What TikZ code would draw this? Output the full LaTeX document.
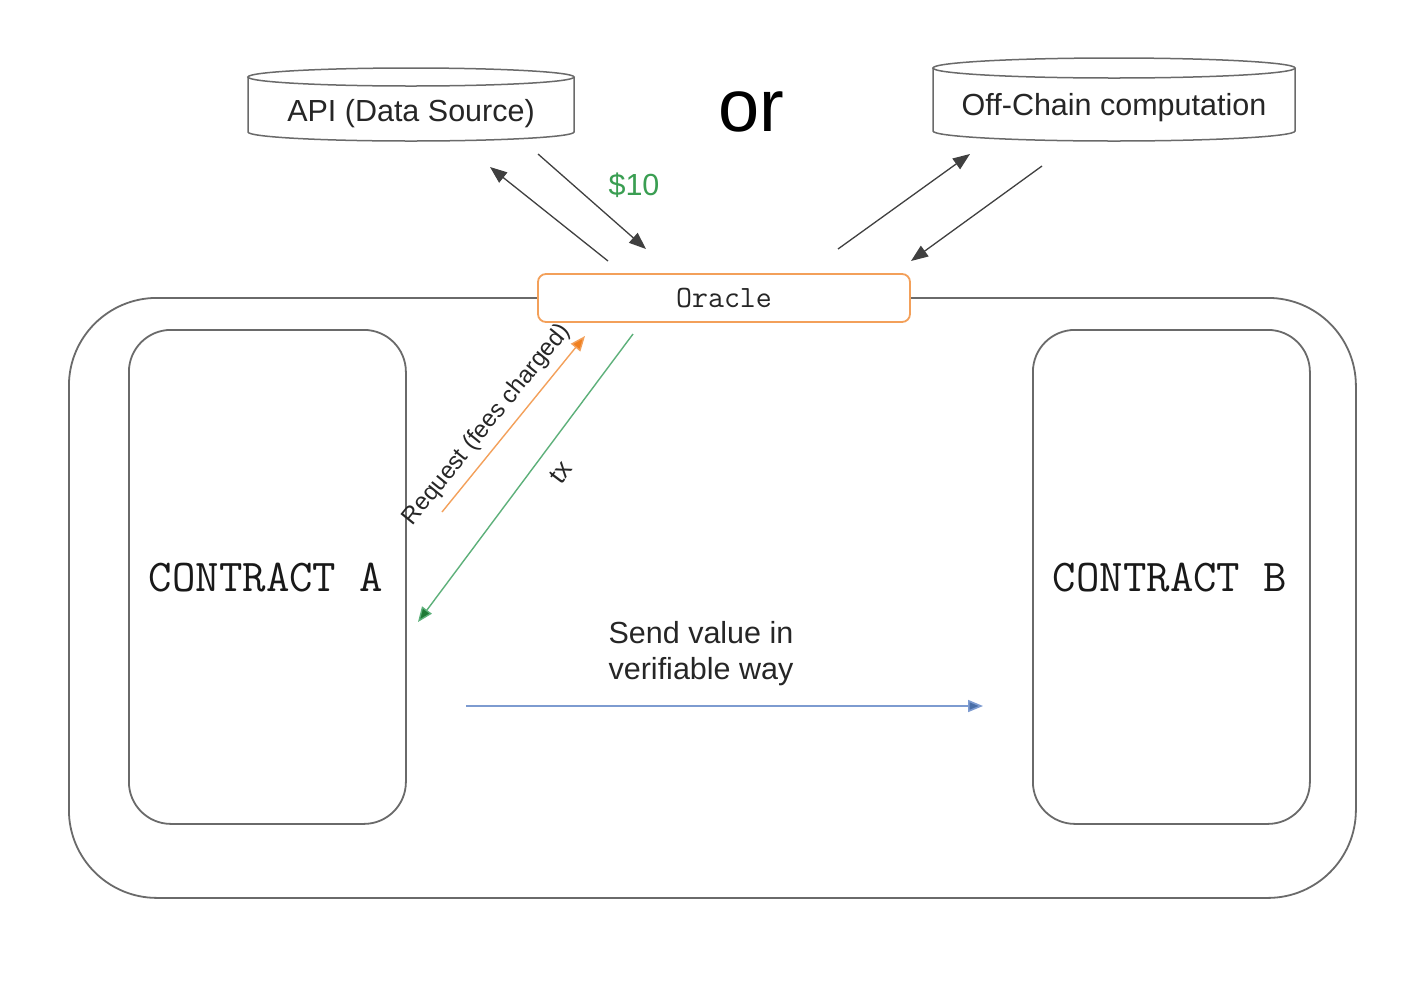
\documentclass[tikz,border=0pt]{standalone}
\usepackage{fontspec}
\setmainfont{Liberation Sans}
\usetikzlibrary{arrows.meta}
\definecolor{lgray}{HTML}{6A6A6A}
\definecolor{orng}{HTML}{F3A05A}
\definecolor{orngtip}{HTML}{F07F1E}
\definecolor{grn}{HTML}{5DB07A}
\definecolor{grntip}{HTML}{1E7A35}
\definecolor{grntxt}{HTML}{3A9E52}
\definecolor{blu}{HTML}{7D9BD0}
\definecolor{blutip}{HTML}{4A6FA8}
\tikzset{
  boxline/.style={draw=lgray, line width=1.8pt},
  blkarrow/.style={draw=black!75, line width=1.3pt, -{Triangle[length=17pt,width=13pt]}},
  sanslbl/.style={font=\fontsize{30.5}{36}\selectfont, text=black!85, inner sep=0pt},
  ttlbl/.style={font=\ttfamily\fontsize{45.5}{50}\selectfont, text=black!90, inner sep=0pt}
}
\begin{document}
\begin{tikzpicture}[x=1pt,y=-1pt]
\useasboundingbox (0,0) rectangle (1424,1005);
\fill[white] (0,0) rectangle (1424,1005);

% outer rounded rectangle
\node[boxline, rounded corners=88pt, minimum width=1287pt, minimum height=600pt, anchor=north west] (outer) at (68,297) {};
% contracts
\node[boxline, rounded corners=42pt, minimum width=277pt, minimum height=494pt, anchor=north west] (ca) at (128,329) {};
\node[boxline, rounded corners=42pt, minimum width=277pt, minimum height=494pt, anchor=north west] (cb) at (1032,329) {};
\node[ttlbl] (catext) at (266,578) {CONTRACT A};
\node[ttlbl] (cbtext) at (1170,578) {CONTRACT B};

% cylinders
\draw[boxline, line width=1.5pt, fill=white] (248,77) -- (248,132) arc[start angle=180,end angle=360,x radius=163pt,y radius=9pt] -- (574,77);
\draw[boxline, line width=1.5pt, fill=white] (411,77) ellipse[x radius=163pt,y radius=9pt];
\node[sanslbl] (api) at (411,114) {API (Data Source)};

\draw[boxline, line width=1.5pt, fill=white] (933,68) -- (933,131) arc[start angle=180,end angle=360,x radius=181pt,y radius=10pt] -- (1295,68);
\draw[boxline, line width=1.5pt, fill=white] (1114,68) ellipse[x radius=181pt,y radius=10pt];
\node[sanslbl] (offc) at (1114,108) {Off-Chain computation};

\node[inner sep=0pt, font=\fontsize{74}{80}\selectfont] (or) at (751,112) {or};

% oracle
\node[draw=orng, line width=1.8pt, fill=white, rounded corners=8pt, minimum width=372pt, minimum height=48pt, font=\ttfamily\fontsize{31}{36}\selectfont, text=black!85] (oracle) at (724,298) {Oracle};

% arrows to/from sources
\coordinate (a1s) at (608,261); \coordinate (a1e) at (490,167);
\coordinate (a2s) at (538,154); \coordinate (a2e) at (646,249);
\coordinate (b1s) at (838,249); \coordinate (b1e) at (970,154);
\coordinate (b2s) at (1042,166); \coordinate (b2e) at (911,261);
\draw[blkarrow] (a1s) -- (a1e);
\draw[blkarrow] (a2s) -- (a2e);
\draw[blkarrow] (b1s) -- (b1e);
\draw[blkarrow] (b2s) -- (b2e);
\node[sanslbl, text=grntxt] (fee) at (634,185) {\$10};

% request / tx
\coordinate (rqs) at (442,512); \coordinate (rqe) at (585,336);
\draw[draw=orng, line width=1.4pt, -{Triangle[length=15pt,width=12pt,fill=orngtip]}] (rqs) -- (rqe);
\node[sanslbl, font=\fontsize{24}{30}\selectfont, rotate=51] (rqlbl) at (487,425) {Request (fees charged)};
\coordinate (txs) at (633,334); \coordinate (txe) at (418,622);
\draw[draw=grn, line width=1.4pt, -{Triangle[length=15pt,width=12pt,fill=grntip]}] (txs) -- (txe);
\node[sanslbl, font=\fontsize{26}{30}\selectfont, rotate=53] (txlbl) at (561,472) {tx};

% send value
\coordinate (svs) at (466,706); \coordinate (sve) at (983,706);
\draw[draw=blu, line width=1.6pt, -{Triangle[length=15pt,width=12pt,fill=blutip]}] (svs) -- (sve);
\node[sanslbl, align=center] (svlbl) at (701,654) {Send value in\\verifiable way};
\end{tikzpicture}
\end{document}
